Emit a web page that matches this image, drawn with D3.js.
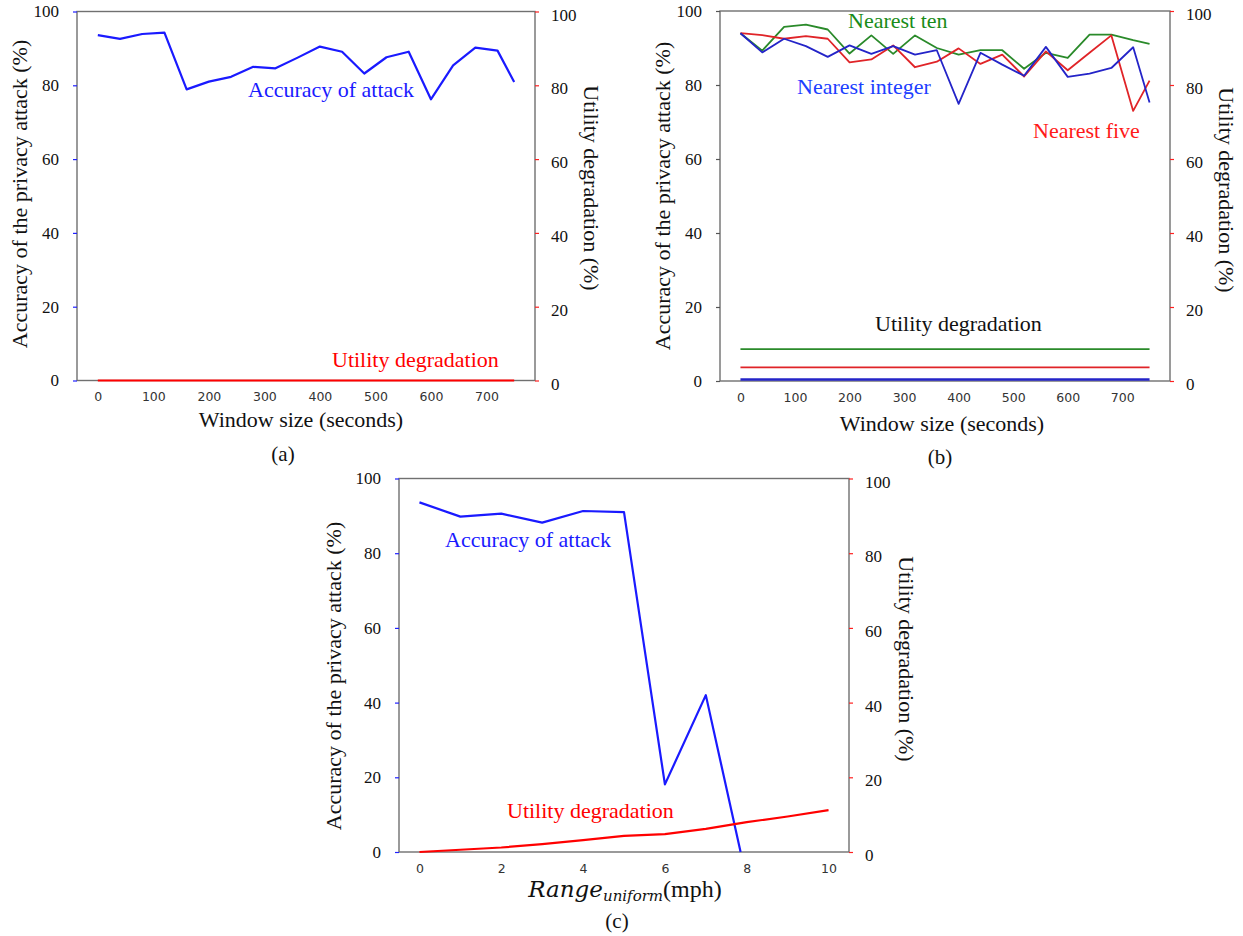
<!DOCTYPE html>
<html><head><meta charset="utf-8">
<script src="https://cdn.jsdelivr.net/npm/d3@7"></script>
<style>body{margin:0;background:#fff} svg{display:block}</style>
</head><body>
<svg id="chart" width="1243" height="936"></svg>
<script>
// ---------- DATA ----------
const windowSizes = [0,40,80,120,160,200,240,280,320,360,400,440,480,520,560,600,640,680,720,750];
const windowTicks = [0,100,200,300,400,500,600,700];
const percentTicks = [0,20,40,60,80,100];

// (a)
const accuracyA = [93.6,92.6,93.9,94.3,78.9,81.0,82.3,85.0,84.6,87.5,90.5,89.1,83.2,87.6,89.1,76.2,85.4,90.2,89.4,80.9];
const utilityA  = [0,0,0,0,0,0,0,0,0,0,0,0,0,0,0,0,0,0,0,0];

// (b)
const accNearestInteger = [94.0,88.8,92.5,90.5,87.6,90.7,88.4,90.5,88.2,89.4,74.9,88.7,85.5,82.5,90.3,82.2,83.1,84.6,90.2,75.3];
const accNearestFive    = [94.0,93.5,92.5,93.2,92.5,86.1,86.9,90.7,84.8,86.3,89.9,85.7,88.2,82.3,89.1,84.0,88.7,93.4,73.0,81.2];
const accNearestTen     = [94.0,89.3,95.7,96.3,95.0,88.5,93.4,88.4,93.4,90.0,88.2,89.4,89.4,84.4,88.7,87.3,93.6,93.6,92.1,91.1];
const utilNearestInteger = [0.4,0.4,0.4,0.4,0.4,0.4,0.4,0.4,0.4,0.4,0.4,0.4,0.4,0.4,0.4,0.4,0.4,0.4,0.4,0.4];
const utilNearestFive    = [3.7,3.7,3.7,3.7,3.7,3.7,3.7,3.7,3.7,3.7,3.7,3.7,3.7,3.7,3.7,3.7,3.7,3.7,3.7,3.7];
const utilNearestTen     = [8.6,8.6,8.6,8.6,8.6,8.6,8.6,8.6,8.6,8.6,8.6,8.6,8.6,8.6,8.6,8.6,8.6,8.6,8.6,8.6];

// (c)
const rangeValues = [0,1,2,3,4,5,6,7,8,9,10];
const rangeTicks = [0,2,4,6,8,10];
const utilityC = [0,0.6,1.2,2.1,3.2,4.3,4.8,6.2,8.0,9.5,11.2];
const accuracyRangeX = [0,1,2,3,4,5,6,7,7.85];
const accuracyC = [93.6,89.8,90.6,88.2,91.3,91.0,18.1,42.0,0];

// ---------- DRAWING ----------
const SERIF = "'Liberation Serif','Times New Roman',Times,serif";
const SANS = "'DejaVu Sans',sans-serif";
const svg = d3.select("#chart");

function panel(cfg) {
  const g = svg.append("g");
  const x = d3.scaleLinear().domain(cfg.xDomain).range([cfg.left, cfg.right]);
  const yL = d3.scaleLinear().domain([0,100]).range([cfg.bottom, cfg.top]);
  const yR = d3.scaleLinear().domain([0,100]).range([cfg.bottom, cfg.top]);

  // frame
  g.append("rect").attr("x", cfg.left).attr("y", cfg.top)
    .attr("width", cfg.right-cfg.left).attr("height", cfg.bottom-cfg.top)
    .attr("fill","none").attr("stroke","#707070").attr("stroke-width",1.4);

  // left axis
  const la = g.append("g").attr("transform",`translate(${cfg.left},0)`)
    .call(d3.axisLeft(yL).tickValues(percentTicks).tickSize(4).tickPadding(14));
  la.select(".domain").remove();
  la.selectAll("line").attr("stroke", cfg.leftTick).attr("stroke-width",1.2);
  la.selectAll("text").attr("font-family",SERIF).attr("font-size",17).attr("fill","#111");

  // right axis
  const ra = g.append("g").attr("transform",`translate(${cfg.right},0)`)
    .call(d3.axisRight(yR).tickValues(percentTicks).tickSize(4).tickPadding(12));
  ra.select(".domain").remove();
  ra.selectAll("line").attr("stroke", "#ff2020").attr("stroke-width",1.2);
  ra.selectAll("text").attr("font-family",SERIF).attr("font-size",17).attr("fill","#111")
    .attr("dy","0.5em");

  // bottom axis
  const ba = g.append("g").attr("transform",`translate(0,${cfg.bottom})`)
    .call(d3.axisBottom(x).tickValues(cfg.xTicks).tickSize(0).tickPadding(12));
  ba.select(".domain").remove();
  ba.selectAll("text").attr("font-family",SANS).attr("font-size",12.5).attr("fill","#333");

  // series
  cfg.series.forEach(s => {
    const ys = s.axis === "right" ? yR : yL;
    const pts = s.xs.map((xv,i)=>[xv, s.ys[i]]);
    g.append("path").datum(pts)
      .attr("fill","none").attr("stroke",s.color).attr("stroke-width",s.width||2)
      .attr("stroke-linejoin","round")
      .attr("d", d3.line().x(d=>x(d[0])).y(d=>ys(d[1])));
  });

  // annotations
  cfg.notes.forEach(n => {
    g.append("text").attr("x",n.x).attr("y",n.y).attr("font-family",SERIF)
      .attr("font-size",22).attr("fill",n.color).text(n.text);
  });

  // axis titles
  g.append("text").attr("transform",`translate(${cfg.leftTitleX},${cfg.leftTitleY}) rotate(-90)`)
    .attr("text-anchor","middle").attr("font-family",SERIF).attr("font-size",22).attr("fill","#111")
    .text("Accuracy of the privacy attack (%)");
  g.append("text").attr("transform",`translate(${cfg.rightTitleX},${cfg.rightTitleY}) rotate(90)`)
    .attr("text-anchor","middle").attr("font-family",SERIF).attr("font-size",22).attr("fill","#111")
    .text("Utility degradation (%)");

  if (cfg.xTitle) {
    g.append("text").attr("x",cfg.xTitleX).attr("y",cfg.xTitleY).attr("text-anchor","middle")
      .attr("font-family",SERIF).attr("font-size",22).attr("fill","#111").text(cfg.xTitle);
  } else {
    const t = g.append("text").attr("x",cfg.xTitleX).attr("y",cfg.xTitleY).attr("text-anchor","middle")
      .attr("fill","#111");
    t.append("tspan").attr("font-family","'DejaVu Serif',serif").attr("font-style","italic")
      .attr("font-size",23).text("Range");
    t.append("tspan").attr("font-family","'DejaVu Serif',serif").attr("font-style","italic")
      .attr("font-size",15).attr("dy",4).text("uniform");
    t.append("tspan").attr("font-family",SERIF).attr("font-size",24).attr("dy",-4).text("(mph)");
  }
  g.append("text").attr("x",cfg.capX).attr("y",cfg.capY).attr("text-anchor","middle")
    .attr("font-family",SERIF).attr("font-size",21).attr("fill","#111").text(cfg.caption);
}

panel({
  left:77, right:535, top:11.5, bottom:380.5, xDomain:[-37.5,787.5], xTicks:windowTicks,
  leftTick:"#2020ff",
  series:[
    {xs:windowSizes, ys:accuracyA, color:"#1a1aff", width:2.2},
    {xs:windowSizes, ys:utilityA, color:"#ff0000", width:2.2, axis:"right"}
  ],
  notes:[
    {x:248, y:97, text:"Accuracy of attack", color:"#1a1aff"},
    {x:332, y:367, text:"Utility degradation", color:"#ff0000"}
  ],
  leftTitleX:27, leftTitleY:194, rightTitleX:584, rightTitleY:188,
  xTitle:"Window size (seconds)", xTitleX:301, xTitleY:427,
  caption:"(a)", capX:283, capY:461
});

panel({
  left:720, right:1170, top:11, bottom:381, xDomain:[-37.5,787.5], xTicks:windowTicks,
  leftTick:"#555",
  series:[
    {xs:windowSizes, ys:accNearestTen, color:"#2a8a2a", width:1.8},
    {xs:windowSizes, ys:accNearestFive, color:"#e02428", width:1.8},
    {xs:windowSizes, ys:accNearestInteger, color:"#2424c8", width:1.8},
    {xs:windowSizes, ys:utilNearestTen, color:"#2a8a2a", width:1.8, axis:"right"},
    {xs:windowSizes, ys:utilNearestFive, color:"#e02428", width:1.8, axis:"right"},
    {xs:windowSizes, ys:utilNearestInteger, color:"#2424c8", width:2.4, axis:"right"}
  ],
  notes:[
    {x:848, y:28, text:"Nearest ten", color:"#1a8c1a"},
    {x:797, y:94, text:"Nearest integer", color:"#2040ff"},
    {x:1033, y:138, text:"Nearest five", color:"#ff1a1a"},
    {x:875, y:331, text:"Utility degradation", color:"#111"}
  ],
  leftTitleX:670, leftTitleY:196, rightTitleX:1219, rightTitleY:190,
  xTitle:"Window size (seconds)", xTitleX:942, xTitleY:431,
  caption:"(b)", capX:940, capY:464
});

panel({
  left:399, right:849, top:478.5, bottom:852, xDomain:[-0.5,10.5], xTicks:rangeTicks,
  leftTick:"#2020ff",
  series:[
    {xs:accuracyRangeX, ys:accuracyC, color:"#1a1aff", width:2.2},
    {xs:rangeValues, ys:utilityC, color:"#ff0000", width:2.2, axis:"right"}
  ],
  notes:[
    {x:445, y:547, text:"Accuracy of attack", color:"#1a1aff"},
    {x:507, y:818, text:"Utility degradation", color:"#ff0000"}
  ],
  leftTitleX:341, leftTitleY:676, rightTitleX:899, rightTitleY:659,
  xTitle:null, xTitleX:625, xTitleY:897,
  caption:"(c)", capX:617, capY:928
});
</script>
</body></html>
